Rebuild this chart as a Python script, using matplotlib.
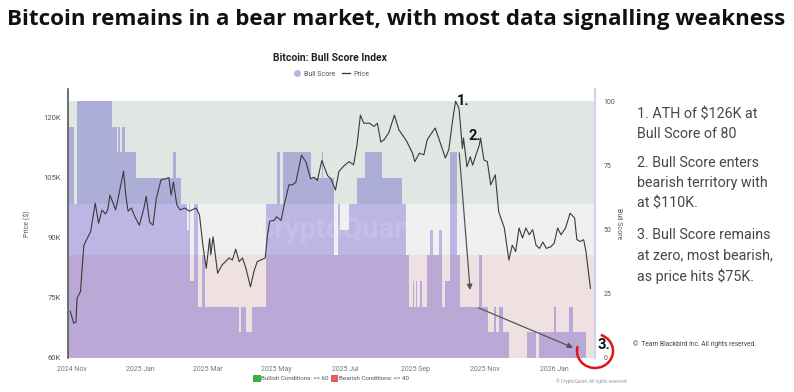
import matplotlib
matplotlib.use("Agg")
import matplotlib.pyplot as plt
import matplotlib.dates as mdates
from matplotlib.lines import Line2D
from matplotlib.patches import Patch, Arc
import pandas as pd

# Bitcoin price (thousands of $)
price_dates = [
    "2024-10-31", "2024-11-03", "2024-11-05", "2024-11-06", "2024-11-09", "2024-11-12",
    "2024-11-15", "2024-11-18", "2024-11-22", "2024-11-25", "2024-11-28", "2024-12-01",
    "2024-12-03", "2024-12-05", "2024-12-07", "2024-12-10", "2024-12-13", "2024-12-17",
    "2024-12-19", "2024-12-21", "2024-12-24", "2024-12-27", "2024-12-31", "2025-01-04",
    "2025-01-06", "2025-01-09", "2025-01-12", "2025-01-15", "2025-01-19", "2025-01-23",
    "2025-01-26", "2025-01-28", "2025-01-30", "2025-02-02", "2025-02-05", "2025-02-09",
    "2025-02-13", "2025-02-19", "2025-02-22", "2025-02-25", "2025-02-28", "2025-03-03",
    "2025-03-04", "2025-03-06", "2025-03-10", "2025-03-14", "2025-03-17", "2025-03-20",
    "2025-03-23", "2025-03-26", "2025-03-29", "2025-04-01", "2025-04-04", "2025-04-08",
    "2025-04-11", "2025-04-14", "2025-04-17", "2025-04-21", "2025-04-23", "2025-04-25",
    "2025-04-29", "2025-05-01", "2025-05-05", "2025-05-08", "2025-05-12", "2025-05-15",
    "2025-05-18", "2025-05-23", "2025-05-27", "2025-05-31", "2025-06-03", "2025-06-06",
    "2025-06-10", "2025-06-15", "2025-06-18", "2025-06-22", "2025-06-25", "2025-06-29",
    "2025-07-04", "2025-07-08", "2025-07-11", "2025-07-14", "2025-07-17", "2025-07-22",
    "2025-07-26", "2025-07-29", "2025-08-01", "2025-08-04", "2025-08-08", "2025-08-13",
    "2025-08-17", "2025-08-21", "2025-08-24", "2025-08-29", "2025-08-31", "2025-09-04",
    "2025-09-08", "2025-09-11", "2025-09-15", "2025-09-18", "2025-09-23", "2025-09-27",
    "2025-09-30", "2025-10-04", "2025-10-06", "2025-10-09", "2025-10-12", "2025-10-13",
    "2025-10-16", "2025-10-19", "2025-10-21", "2025-10-24", "2025-10-27", "2025-10-28",
    "2025-10-31", "2025-11-03", "2025-11-06", "2025-11-10", "2025-11-13", "2025-11-18",
    "2025-11-21", "2025-11-22", "2025-11-25", "2025-11-28", "2025-12-01", "2025-12-04",
    "2025-12-07", "2025-12-10", "2025-12-13", "2025-12-16", "2025-12-19", "2025-12-22",
    "2025-12-25", "2025-12-29", "2026-01-01", "2026-01-04", "2026-01-07", "2026-01-11",
    "2026-01-15", "2026-01-19", "2026-01-21", "2026-01-24", "2026-01-27", "2026-01-29",
    "2026-02-02",
]
price_k = [
    71.7, 68.7, 69.0, 75.0, 76.6, 88.2,
    89.9, 91.6, 98.7, 93.7, 97.0, 96.0,
    97.0, 100.7, 99.3, 97.0, 101.0, 106.7,
    100.7, 96.7, 97.5, 95.3, 93.2, 97.5,
    100.4, 94.0, 93.2, 100.0, 104.5, 104.8,
    105.1, 100.7, 104.0, 98.3, 97.0, 97.5,
    96.7, 97.5, 95.8, 88.2, 82.4, 89.9,
    85.8, 90.3, 81.2, 83.3, 84.1, 85.0,
    84.5, 87.2, 84.1, 85.0, 82.4, 77.8,
    81.6, 84.1, 84.5, 85.0, 90.7, 94.2,
    94.4, 95.3, 94.4, 98.6, 103.3, 103.3,
    103.9, 110.7, 109.0, 104.8, 105.2, 104.4,
    109.4, 105.6, 104.8, 102.0, 106.6, 107.9,
    109.1, 108.3, 113.3, 120.7, 118.7, 118.7,
    117.9, 118.7, 114.0, 114.6, 116.3, 120.7,
    117.0, 115.4, 114.1, 111.2, 109.1, 111.2,
    110.8, 114.6, 116.3, 117.5, 113.3, 110.0,
    112.1, 120.7, 124.2, 122.4, 112.4, 115.0,
    107.8, 110.3, 108.2, 110.8, 113.3, 115.0,
    109.5, 109.1, 103.3, 105.8, 96.6, 92.5,
    86.6, 84.5, 88.2, 86.6, 92.5, 90.0,
    92.5, 90.8, 92.1, 88.2, 87.4, 89.0,
    87.4, 87.8, 88.7, 92.5, 90.8, 92.5,
    96.2, 95.0, 89.6, 89.1, 89.6, 86.6,
    77.4,
]

# Bull Score (0-100), step changes
score_dates = [
    "2024-10-30", "2024-11-03", "2024-11-06", "2024-12-07", "2024-12-11", "2024-12-12",
    "2024-12-14", "2024-12-16", "2024-12-18", "2024-12-28", "2025-01-30", "2025-02-01",
    "2025-02-06", "2025-02-11", "2025-02-13", "2025-02-14", "2025-02-17", "2025-02-21",
    "2025-02-24", "2025-02-27", "2025-03-29", "2025-03-31", "2025-04-04", "2025-04-09",
    "2025-04-22", "2025-05-01", "2025-05-04", "2025-05-07", "2025-05-31", "2025-06-10",
    "2025-06-11", "2025-06-21", "2025-06-24", "2025-06-26", "2025-07-04", "2025-07-11",
    "2025-07-18", "2025-08-02", "2025-08-20", "2025-08-23", "2025-08-26", "2025-08-29",
    "2025-08-30", "2025-09-01", "2025-09-02", "2025-09-05", "2025-09-06", "2025-09-11",
    "2025-09-13", "2025-09-16", "2025-09-21", "2025-09-24", "2025-09-27", "2025-10-01",
    "2025-10-07", "2025-10-10", "2025-10-27", "2025-10-29", "2025-11-04", "2025-11-09",
    "2025-11-11", "2025-11-13", "2025-11-17", "2025-11-22", "2025-12-08", "2025-12-16",
    "2025-12-19", "2026-01-01", "2026-01-03", "2026-01-14", "2026-01-18", "2026-01-29",
    "2026-02-02",
]
score = [
    90, 60, 100, 90, 80, 90,
    80, 90, 80, 70, 80, 70,
    60, 50, 60, 30, 60, 20,
    40, 20, 10, 20, 10, 20,
    60, 80, 60, 80, 70, 80,
    70, 40, 60, 50, 60, 70,
    80, 70, 60, 40, 20, 30,
    20, 30, 20, 30, 20, 40,
    50, 40, 50, 20, 30, 80,
    40, 20, 40, 20, 10, 20,
    10, 20, 10, 0, 10, 0,
    10, 20, 10, 20, 10, 0,
    0,
]

price_ticks = [60, 75, 90, 105, 120]
score_ticks = [0, 25, 50, 75, 100]

notes = [
    "1. ATH of $126K at\nBull Score of 80",
    "2. Bull Score enters\nbearish territory with\nat $110K.",
    "3. Bull Score remains\nat zero, most bearish,\nas price hits $75K.",
]

pdates = pd.to_datetime(price_dates)
sdates = pd.to_datetime(score_dates)

plt.rcParams["font.family"] = ["Roboto", "DejaVu Sans"]

W, H = 794, 392
fig = plt.figure(figsize=(W / 100, H / 100), dpi=100)
fig.patch.set_facecolor("white")

def fx(px):
    return px / W

def fy(py):
    return 1 - py / H

# axes box in pixels: x 68..595, y 89..358
ax2 = fig.add_axes([fx(68), fy(358), fx(595) - fx(68), fy(89) - fy(358)])
ax = ax2.twinx()
ax.yaxis.tick_left()
ax.yaxis.set_label_position("left")
ax2.yaxis.tick_right()
ax2.yaxis.set_label_position("right")

x0, x1 = pd.Timestamp("2024-10-29"), pd.Timestamp("2026-02-06")

# Bull score fill, then condition bands laid over it
ax2.fill_between(sdates, score, 0, step="post", color="#978be9", lw=0, zorder=1)
ax2.axhspan(60, 100, color="#c3d1c7", alpha=0.5, lw=0, zorder=2)
ax2.axhspan(40, 60, color="#e1e1e1", alpha=0.5, lw=0, zorder=2)
ax2.axhspan(0, 40, color="#e1c5c5", alpha=0.5, lw=0, zorder=2)
ax2.set_ylim(0, 104.67)
ax2.set_xlim(x0, x1)
ax2.set_yticks(score_ticks)
ax2.tick_params(axis="y", length=0, labelsize=5, labelcolor="#555555", pad=6)
ax2.set_ylabel("Bull Score", fontsize=5, color="#555555", rotation=270, labelpad=5)

# Price line on top
ax.plot(pdates, price_k, color="#3a3a3a", lw=0.8, zorder=5)
ax.set_ylim(60, 127.25)
ax.set_xlim(x0, x1)
ax.set_yticks(price_ticks)
ax.set_yticklabels([f"{v}K" for v in price_ticks])
ax.tick_params(axis="y", length=0, labelsize=5.5, labelcolor="#555555", pad=5)
ax.set_ylabel("Price ($)", fontsize=5, color="#555555", labelpad=9)

ax2.xaxis.set_major_locator(mdates.MonthLocator(bymonth=[1, 3, 5, 7, 9, 11]))
ax2.xaxis.set_major_formatter(mdates.DateFormatter("%Y %b"))
ax2.tick_params(axis="x", length=0, labelsize=5, labelcolor="#777777", pad=6)

for a in (ax, ax2):
    for side in ("top", "bottom", "left", "right"):
        a.spines[side].set_visible(False)
ax.spines["left"].set_visible(True)
ax.spines["left"].set_color("#555555")
ax.spines["left"].set_linewidth(1.2)
ax2.spines["right"].set_visible(True)
ax2.spines["right"].set_color("#d4d0ee")
ax2.spines["right"].set_linewidth(1.5)

# watermark
ax2.text(pd.Timestamp("2025-06-25"), 50, "CryptoQuant", ha="center", va="center",
         fontsize=21, fontweight="bold", color="white", alpha=0.13, zorder=3)

# annotations
ax.text(pd.Timestamp("2025-10-07"), 122.6, "1.", fontsize=10.5, fontweight="bold",
        color="#111111", va="bottom", zorder=6)
ax.text(pd.Timestamp("2025-10-17"), 113.8, "2.", fontsize=10.5, fontweight="bold",
        color="#111111", va="bottom", zorder=6)
ax.annotate("", xy=(pd.Timestamp("2025-10-19"), 76.3), xytext=(pd.Timestamp("2025-10-09"), 112.0),
            arrowprops=dict(arrowstyle="-|>", color="#555555", lw=0.9, mutation_scale=8), zorder=6)
ax.annotate("", xy=(pd.Timestamp("2026-01-20"), 62.3), xytext=(pd.Timestamp("2025-10-24"), 72.8),
            arrowprops=dict(arrowstyle="-|>", color="#555555", lw=0.9, mutation_scale=8), zorder=6)

fig.text(fx(597), fy(345), "3.", fontsize=10.5, fontweight="bold", color="#111111", va="center")
fig.add_artist(Arc((fx(595), fy(351)), fx(36), 34 / H, theta1=150, theta2=440,
                   color="#e01515", lw=1.8, transform=fig.transFigure))

# titles
fig.text(fx(396), fy(19), "Bitcoin remains in a bear market, with most data signalling weakness",
         ha="center", va="center", fontsize=16.1, fontweight="bold", color="#111111",
         family=["Open Sans", "DejaVu Sans"])
fig.text(fx(330), fy(58), "Bitcoin: Bull Score Index", ha="center", va="center",
         fontsize=7.5, fontweight="bold", color="#222222")

top_handles = [
    Line2D([], [], marker="o", ls="none", markersize=5, markerfacecolor="#b9b3ea", markeredgecolor="none"),
    Line2D([], [], color="#333333", lw=0.9),
]
fig.legend(top_handles, ["Bull Score", "Price"], loc="center", bbox_to_anchor=(fx(331), fy(74)),
           ncol=2, frameon=False, fontsize=5, handlelength=1.2, handletextpad=0.4,
           columnspacing=1.0, labelcolor="#555555")

bot_handles = [
    Patch(facecolor="#35b53b", edgecolor="#1c8a22", lw=0.5),
    Patch(facecolor="#e86060", edgecolor="#c03a3a", lw=0.5),
]
fig.legend(bot_handles, ["Bullish Conditions: >= 60", "Bearish Conditions: <= 40"], loc="center",
           bbox_to_anchor=(fx(331), fy(378)), ncol=2, frameon=False, fontsize=4.5,
           handlelength=1.0, handleheight=1.0, handletextpad=0.3, columnspacing=0.3,
           labelcolor="#555555")
fig.text(fx(626), fy(381), "\u00a9 CryptoQuant. All rights reserved", ha="right", va="center",
         fontsize=3.3, color="#999999")

# side notes
note_top = [107, 156, 228]
for txt, y in zip(notes, note_top):
    fig.text(fx(637), fy(y), txt, ha="left", va="top", fontsize=10.3, color="#474747",
             linespacing=1.55)
fig.text(fx(633), fy(344), "\u00a9  Team Blackbird Inc. All rights reserved.", ha="left", va="center",
         fontsize=4.8, color="#444444")

fig.savefig("out.png", dpi=100)
